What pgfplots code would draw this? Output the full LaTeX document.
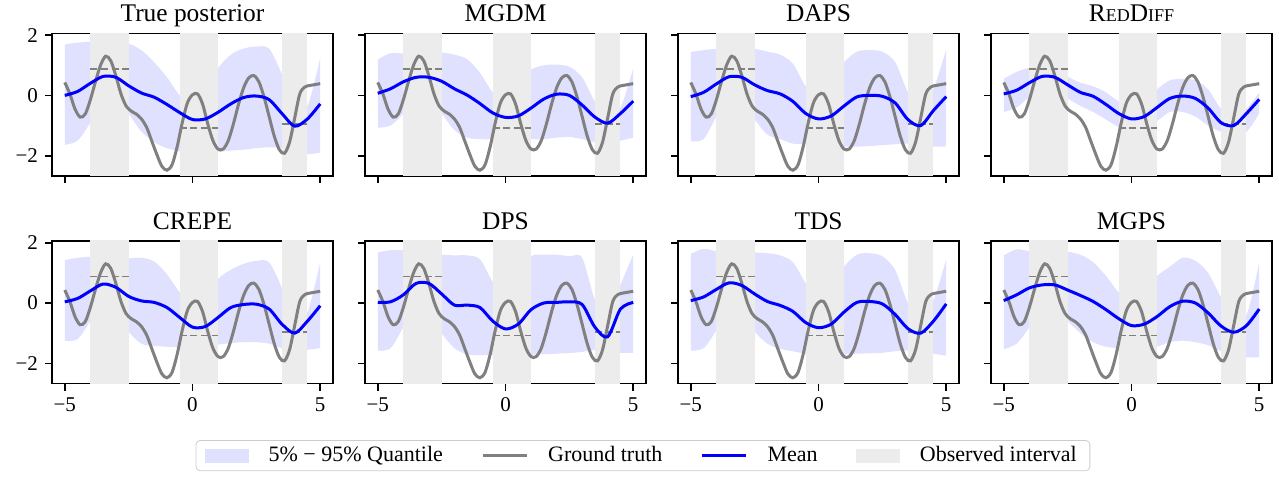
\documentclass[border=0pt]{standalone}
\usepackage{fontspec}
\setmainfont{Liberation Serif}
\usepackage{pgfplots}
\usepackage{pgfplotstable}
\pgfplotsset{compat=1.18}
\usepgfplotslibrary{groupplots,fillbetween}

\definecolor{mplgray}{RGB}{128,128,128}
\definecolor{mplblue}{RGB}{0,0,255}
\definecolor{obsgray}{RGB}{236,236,236}

% ground truth
\pgfplotstableread{
x y
-5.0 0.43
-4.8 0.05
-4.6 -0.45
-4.4 -0.72
-4.2 -0.62
-4.0 -0.15
-3.8 0.45
-3.6 1.00
-3.4 1.30
-3.2 1.15
-3.0 0.65
-2.8 0.05
-2.6 -0.35
-2.4 -0.52
-2.2 -0.62
-2.0 -0.78
-1.8 -1.05
-1.6 -1.50
-1.4 -1.95
-1.2 -2.35
-1.0 -2.48
-0.8 -2.30
-0.6 -1.70
-0.4 -0.90
-0.2 -0.25
0.0 0.02
0.2 0.05
0.4 -0.30
0.6 -0.95
0.8 -1.50
1.0 -1.78
1.2 -1.78
1.4 -1.50
1.6 -0.95
1.8 -0.30
2.0 0.25
2.2 0.58
2.4 0.66
2.6 0.45
2.8 -0.05
3.0 -0.70
3.2 -1.35
3.4 -1.80
3.6 -1.92
3.8 -1.55
4.0 -0.75
4.2 0.05
4.4 0.28
4.6 0.33
4.8 0.36
5.0 0.39
}\tgt

% x, mean, 95% quantile, 5% quantile
\pgfplotstableread{
x m u l
-5.0 0.00 1.69 -1.64
-4.5 0.13 1.75 -1.50
-4.0 0.40 1.78 -0.90
-3.5 0.63 1.80 -0.05
-3.0 0.60 1.78 0.00
-2.5 0.32 1.72 -0.60
-2.0 0.08 1.50 -1.20
-1.5 -0.06 1.10 -1.55
-1.0 -0.30 0.60 -1.75
-0.5 -0.57 0.00 -1.85
0.0 -0.80 -0.35 -1.88
0.5 -0.78 0.10 -1.88
1.0 -0.56 0.90 -1.87
1.5 -0.28 1.35 -1.83
2.0 -0.07 1.55 -1.80
2.5 -0.02 1.62 -1.75
3.0 -0.14 1.55 -1.72
3.5 -0.60 0.70 -1.75
4.0 -1.02 -0.40 -1.90
4.5 -0.78 -0.35 -1.95
5.0 -0.28 1.25 -1.90
}\tpost

\pgfplotstableread{
x m u l
-5.0 0.07 1.19 -1.07
-4.5 0.22 1.40 -1.00
-4.0 0.45 1.38 -0.60
-3.5 0.60 1.30 -0.10
-3.0 0.60 1.38 -0.10
-2.5 0.47 1.42 -0.60
-2.0 0.22 1.35 -1.15
-1.5 0.01 1.20 -1.40
-1.0 -0.27 0.75 -1.45
-0.5 -0.58 0.10 -1.45
0.0 -0.73 -0.20 -1.40
0.5 -0.68 0.40 -1.40
1.0 -0.42 0.85 -1.45
1.5 -0.12 1.00 -1.45
2.0 0.04 1.02 -1.40
2.5 0.00 0.95 -1.38
3.0 -0.32 0.60 -1.45
3.5 -0.72 -0.20 -1.55
4.0 -0.92 -0.60 -1.55
4.5 -0.60 -0.40 -1.50
5.0 -0.19 0.90 -1.40
}\tmgdm

\pgfplotstableread{
x m u l
-5.0 -0.04 1.44 -1.52
-4.5 0.10 1.50 -1.45
-4.0 0.38 1.55 -0.70
-3.5 0.62 1.62 0.00
-3.0 0.60 1.60 -0.25
-2.5 0.35 1.55 -0.80
-2.0 0.16 1.45 -1.30
-1.5 0.05 1.35 -1.45
-1.0 -0.20 1.05 -1.60
-0.5 -0.60 0.30 -1.62
0.0 -0.78 0.05 -1.65
0.5 -0.68 0.50 -1.68
1.0 -0.35 1.10 -1.70
1.5 -0.05 1.45 -1.70
2.0 0.00 1.50 -1.68
2.5 -0.03 1.45 -1.65
3.0 -0.25 1.10 -1.62
3.5 -0.80 0.10 -1.60
4.0 -1.00 -0.50 -1.65
4.5 -0.50 0.20 -1.70
5.0 -0.04 1.53 -1.69
}\tdaps

\pgfplotstableread{
x m u l
-5.0 0.05 0.55 -0.55
-4.5 0.17 0.78 -0.40
-4.0 0.42 0.92 -0.05
-3.5 0.63 0.98 0.25
-3.0 0.60 0.88 0.15
-2.5 0.35 0.62 -0.10
-2.0 0.10 0.42 -0.35
-1.5 -0.03 0.30 -0.55
-1.0 -0.30 0.10 -0.80
-0.5 -0.60 -0.20 -1.05
0.0 -0.78 -0.35 -1.20
0.5 -0.70 -0.25 -1.15
1.0 -0.40 0.20 -0.85
1.5 -0.10 0.50 -0.55
2.0 -0.02 0.55 -0.55
2.5 -0.10 0.50 -0.70
3.0 -0.42 0.20 -1.00
3.5 -0.90 -0.45 -1.20
4.0 -1.00 -0.75 -1.22
4.5 -0.60 -0.45 -1.20
5.0 -0.13 0.10 -0.60
}\tred

\pgfplotstableread{
x m u l
-5.0 0.04 1.42 -1.25
-4.5 0.15 1.50 -1.20
-4.0 0.40 1.53 -0.60
-3.5 0.63 1.50 0.05
-3.0 0.52 1.45 -0.30
-2.5 0.22 1.48 -0.95
-2.0 0.07 1.50 -1.35
-1.5 0.02 1.38 -1.42
-1.0 -0.15 0.95 -1.45
-0.5 -0.48 0.35 -1.47
0.0 -0.80 -0.15 -1.48
0.5 -0.78 0.20 -1.45
1.0 -0.48 0.80 -1.38
1.5 -0.15 1.10 -1.33
2.0 -0.05 1.30 -1.30
2.5 -0.04 1.40 -1.30
3.0 -0.20 1.35 -1.35
3.5 -0.70 0.50 -1.50
4.0 -1.00 -0.55 -1.60
4.5 -0.60 -0.30 -1.55
5.0 -0.09 1.35 -1.50
}\tcrepe

\pgfplotstableread{
x m u l
-5.0 0.02 1.68 -1.58
-4.5 0.04 1.75 -1.50
-4.0 0.27 1.75 -0.80
-3.5 0.65 1.72 -0.05
-3.0 0.65 1.65 -0.30
-2.5 0.30 1.60 -1.00
-2.0 -0.07 1.58 -1.50
-1.5 -0.07 1.58 -1.70
-1.0 -0.15 1.45 -1.73
-0.5 -0.60 0.70 -1.73
0.0 -0.86 0.25 -1.72
0.5 -0.70 0.90 -1.73
1.0 -0.22 1.55 -1.72
1.5 0.00 1.60 -1.70
2.0 0.02 1.60 -1.68
2.5 0.04 1.55 -1.66
3.0 -0.05 1.50 -1.62
3.5 -0.80 0.10 -1.55
4.0 -1.12 -0.50 -1.50
4.5 -0.20 0.60 -1.65
5.0 0.02 1.60 -1.65
}\tdps

\pgfplotstableread{
x m u l
-5.0 0.08 1.63 -1.58
-4.5 0.20 1.80 -1.50
-4.0 0.45 1.72 -0.90
-3.5 0.67 1.72 -0.05
-3.0 0.58 1.72 -0.35
-2.5 0.30 1.68 -0.95
-2.0 0.05 1.65 -1.35
-1.5 -0.08 1.58 -1.52
-1.0 -0.28 1.35 -1.60
-0.5 -0.65 0.65 -1.68
0.0 -0.82 0.05 -1.70
0.5 -0.70 0.45 -1.70
1.0 -0.30 1.20 -1.70
1.5 0.02 1.60 -1.68
2.0 0.05 1.65 -1.67
2.5 -0.03 1.55 -1.65
3.0 -0.38 1.10 -1.60
3.5 -0.85 0.00 -1.58
4.0 -1.00 -0.50 -1.62
4.5 -0.60 0.10 -1.68
5.0 -0.03 1.45 -1.75
}\ttds

\pgfplotstableread{
x m u l
-5.0 0.08 1.58 -1.53
-4.5 0.27 1.78 -1.35
-4.0 0.50 1.72 -0.80
-3.5 0.60 1.70 -0.05
-3.0 0.60 1.72 -0.20
-2.5 0.43 1.70 -0.60
-2.0 0.25 1.60 -1.00
-1.5 0.05 1.35 -1.30
-1.0 -0.22 0.90 -1.45
-0.5 -0.52 0.35 -1.50
0.0 -0.75 0.05 -1.55
0.5 -0.70 0.50 -1.55
1.0 -0.45 0.90 -1.45
1.5 -0.12 1.20 -1.30
2.0 0.06 1.50 -1.25
2.5 0.00 1.40 -1.30
3.0 -0.33 1.00 -1.40
3.5 -0.76 0.20 -1.60
4.0 -0.97 -0.35 -1.75
4.5 -0.75 -0.40 -1.80
5.0 -0.20 1.35 -1.80
}\tmgps

\pgfplotsset{
  obsfill/.style={fill=obsgray, draw=none, forget plot},
  obsline/.style={mplgray, line width=0.9pt, dash pattern=on 3.5pt off 1.8pt, forget plot},
  gtline/.style={mplgray, line width=1.5pt, smooth, forget plot},
  meanline/.style={mplblue, line width=1.5pt, smooth, forget plot},
  patchlegend/.style={legend image code/.code={\fill[##1, draw=none, sharp corners] (0pt,-3.5pt) rectangle (22pt,3.5pt);}},
  linelegend/.style={legend image code/.code={\draw[##1, sharp corners] (0pt,0pt) -- (22pt,0pt);}},
}

\newcommand\panel[1]{%
  \addplot[obsfill] coordinates {(-4,-3) (-2.5,-3) (-2.5,3) (-4,3)} -- cycle;
  \addplot[obsfill] coordinates {(-0.5,-3) (1,-3) (1,3) (-0.5,3)} -- cycle;
  \addplot[obsfill] coordinates {(3.5,-3) (4.5,-3) (4.5,3) (3.5,3)} -- cycle;
  \addplot[draw=none, smooth, name path=up, forget plot] table[x=x, y=u] {#1};
  \addplot[draw=none, smooth, name path=lo, forget plot] table[x=x, y=l] {#1};
  \addplot[fill=mplblue, fill opacity=0.12, draw=none, forget plot] fill between[of=up and lo];
  \addplot[obsline] coordinates {(-4,0.88) (-2.5,0.88)};
  \addplot[obsline] coordinates {(-0.5,-1.08) (1,-1.08)};
  \addplot[obsline] coordinates {(3.5,-0.96) (4.5,-0.96)};
  \addplot[gtline] table[x=x, y=y] {\tgt};
  \addplot[meanline] table[x=x, y=m] {#1};
}

\begin{document}
\begin{tikzpicture}
\begin{groupplot}[
  group style={group size=4 by 2, horizontal sep=16pt, vertical sep=32.5pt},
  scale only axis,
  width=140.5pt, height=71.3pt,
  xmin=-5.5, xmax=5.5, ymin=-2.67, ymax=2.06,
  xtick={-5,0,5}, ytick={-2,0,2},
  xticklabels={−5,0,5}, yticklabels={−2,0,2},
  tick align=outside, major tick length=3.5pt,
  xtick pos=bottom, ytick pos=left,
  axis line style={line width=0.8pt},
  tick style={line width=0.8pt, black},
  tick label style={font=\fontsize{10.5}{12}\selectfont},
  every axis title shift=0pt,
  title style={font=\fontsize{12.7}{14}\selectfont, at={(0.5,1)}, anchor=base, yshift=5.8pt},
]
\nextgroupplot[title={True posterior}, xticklabels={}]
\panel{\tpost}
\nextgroupplot[title={MGDM}, xticklabels={}, yticklabels={}]
\panel{\tmgdm}
\nextgroupplot[title={DAPS}, xticklabels={}, yticklabels={}]
\panel{\tdaps}
\nextgroupplot[title={R{\fontsize{9}{10}\selectfont ED}D{\fontsize{9}{10}\selectfont IFF}}, xticklabels={}, yticklabels={}]
\panel{\tred}
\nextgroupplot[title={CREPE},
  legend columns=4,
  legend style={at={(2.103,-0.397)}, anchor=north, draw=black!20, rounded corners=2pt,
    font=\fontsize{11}{13}\selectfont, inner xsep=4.5pt, inner ysep=1pt,
    /tikz/every odd column/.append style={column sep=7.8pt},
    /tikz/every even column/.append style={column sep=17.3pt}},
]
\panel{\tcrepe}
\addlegendimage{patchlegend, fill=mplblue, fill opacity=0.12}
\addlegendentry{5\% − 95\% Quantile}
\addlegendimage{linelegend, mplgray, line width=1.5pt}
\addlegendentry{Ground truth}
\addlegendimage{linelegend, mplblue, line width=1.5pt}
\addlegendentry{Mean}
\addlegendimage{patchlegend, fill=obsgray}
\addlegendentry{Observed interval}
\nextgroupplot[title={DPS}, yticklabels={}]
\panel{\tdps}
\nextgroupplot[title={TDS}, yticklabels={}]
\panel{\ttds}
\nextgroupplot[title={MGPS}, yticklabels={}]
\panel{\tmgps}
\end{groupplot}
\pgfresetboundingbox
\path[use as bounding box] ([xshift=-26pt, yshift=16.65pt]group c1r1.north west) rectangle ([xshift=3.5pt, yshift=-47.85pt]group c4r2.south east);
\end{tikzpicture}
\end{document}
